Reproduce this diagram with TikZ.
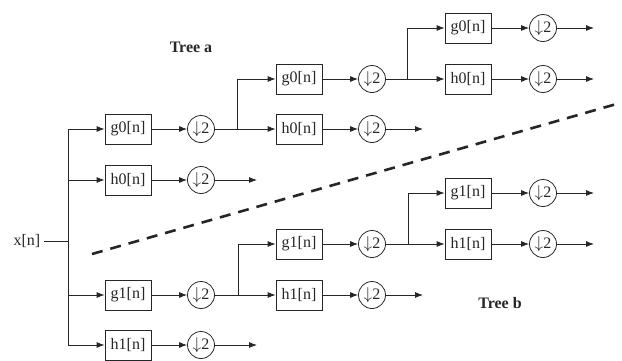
\documentclass[tikz,border=0pt]{standalone}
\usepackage{fontspec}
\setmainfont{Liberation Serif}
\usetikzlibrary{arrows.meta,positioning}

\begin{document}
\begin{tikzpicture}[x=1pt, y=-1pt, >={Latex[length=8pt,width=6pt]}, line width=0.8pt, color=black!85,
font=\fontsize{16}{18}\selectfont,
filt/.style={draw, rectangle, minimum width=46pt, minimum height=30pt, inner sep=1pt},
down/.style={draw, circle, minimum size=27pt, inner sep=0pt}]
    \useasboundingbox (0,0) rectangle (622,360);

    % input
    \node (x) at (27,241) {x[n]};
    \coordinate (trunk) at (68,241);

    % tree a
    \node[filt] (GA1) at (128,129) {g0[n]};
    \node[down] (DGA1) at (201,129) {$\downarrow$2};
    \node[filt] (HA1) at (128,180) {h0[n]};
    \node[down] (DHA1) at (201,180) {$\downarrow$2};
    \coordinate (EHA1) at (257,180);
    \coordinate (JA1) at (237,129);
    \node[filt] (GA2) at (299,79) {g0[n]};
    \node[down] (DGA2) at (372,79) {$\downarrow$2};
    \node[filt] (HA2) at (299,129) {h0[n]};
    \node[down] (DHA2) at (372,129) {$\downarrow$2};
    \coordinate (EHA2) at (423,129);
    \coordinate (JA2) at (407,79);
    \node[filt] (GA3) at (468,28) {g0[n]};
    \node[down] (DGA3) at (543,28) {$\downarrow$2};
    \coordinate (EGA3) at (594,28);
    \node[filt] (HA3) at (468,79) {h0[n]};
    \node[down] (DHA3) at (543,79) {$\downarrow$2};
    \coordinate (EHA3) at (594,79);
    \node[font=\fontsize{16}{18}\selectfont\bfseries] (TA) at (191,47) {Tree a};

    % tree b
    \node[filt] (GB1) at (128,295) {g1[n]};
    \node[down] (DGB1) at (201,295) {$\downarrow$2};
    \node[filt] (HB1) at (128,345) {h1[n]};
    \node[down] (DHB1) at (201,345) {$\downarrow$2};
    \coordinate (EHB1) at (257,345);
    \coordinate (JB1) at (238,295);
    \node[filt] (GB2) at (299,244) {g1[n]};
    \node[down] (DGB2) at (372,244) {$\downarrow$2};
    \node[filt] (HB2) at (299,295) {h1[n]};
    \node[down] (DHB2) at (372,295) {$\downarrow$2};
    \coordinate (EHB2) at (423,295);
    \coordinate (JB2) at (408,244);
    \node[filt] (GB3) at (468,193) {g1[n]};
    \node[down] (DGB3) at (543,193) {$\downarrow$2};
    \coordinate (EGB3) at (594,193);
    \node[filt] (HB3) at (468,244) {h1[n]};
    \node[down] (DHB3) at (543,244) {$\downarrow$2};
    \coordinate (EHB3) at (594,244);
    \node[font=\fontsize{16}{18}\selectfont\bfseries] (TB) at (500,303) {Tree b};

    % splitter
    \draw (x) -- (trunk);
    \draw (trunk |- GA1) -- (trunk |- HB1);
    \draw[->] (trunk |- GA1) -- (GA1);
    \draw[->] (trunk |- HA1) -- (HA1);
    \draw[->] (trunk |- GB1) -- (GB1);
    \draw[->] (trunk |- HB1) -- (HB1);

    \path[->]
        (GA1) edge (DGA1)  (HA1) edge (DHA1)  (DHA1) edge (EHA1)
        (DGA1) edge (HA2)  (GA2) edge (DGA2)  (HA2) edge (DHA2)  (DHA2) edge (EHA2)
        (DGA2) edge (HA3)  (GA3) edge (DGA3)  (DGA3) edge (EGA3)
        (HA3) edge (DHA3)  (DHA3) edge (EHA3)
        (GB1) edge (DGB1)  (HB1) edge (DHB1)  (DHB1) edge (EHB1)
        (DGB1) edge (HB2)  (GB2) edge (DGB2)  (HB2) edge (DHB2)  (DHB2) edge (EHB2)
        (DGB2) edge (HB3)  (GB3) edge (DGB3)  (DGB3) edge (EGB3)
        (HB3) edge (DHB3)  (DHB3) edge (EHB3);
    \draw[->] (JA1) |- (GA2);
    \draw[->] (JA2) |- (GA3);
    \draw[->] (JB1) |- (GB2);
    \draw[->] (JB2) |- (GB3);

    % separator
    \coordinate (DS) at (92,254);
    \coordinate (DE) at (620,103);
    \draw[line width=2.6pt, dash pattern=on 11pt off 8pt] (DS) -- (DE);
\end{tikzpicture}
\end{document}
